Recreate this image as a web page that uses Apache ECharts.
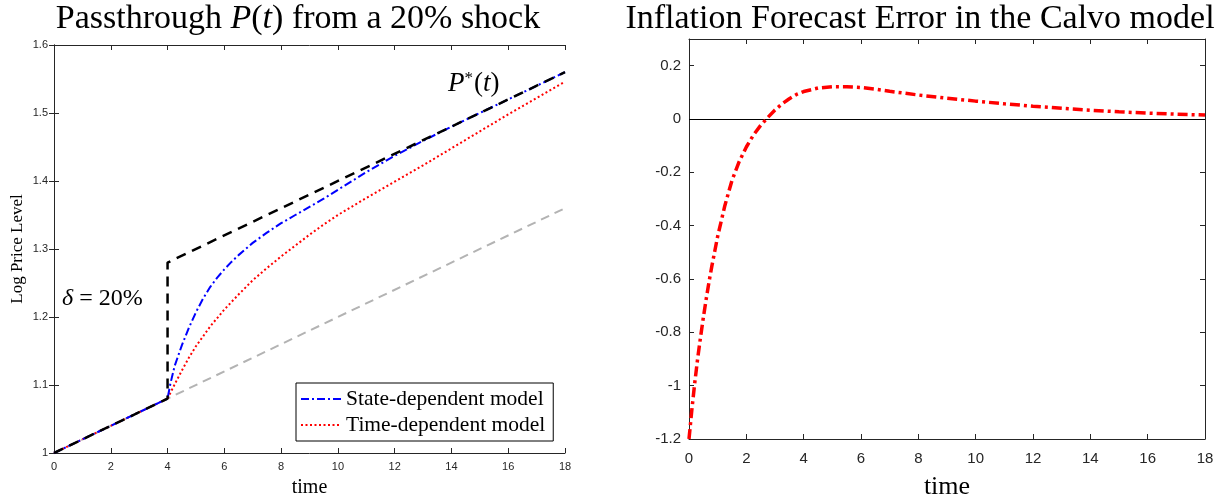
<!DOCTYPE html>
<html>
<head>
<meta charset="utf-8">
<script src="https://cdn.jsdelivr.net/npm/echarts@6/dist/echarts.min.js"></script>
<style>html,body{margin:0;padding:0;background:#fff;}#c{width:1228px;height:500px;}</style>
</head>
<body>
<div id="c"></div>
<script>
// ---- data ----
const pStarT   = [0, 4, 4, 18];
const pStarV   = [1.00, 1.08, 1.28, 1.56];
const trendT   = [0, 4, 18];
const trendV   = [1.00, 1.08, 1.36];
const stateT   = [0, 4, 4.1, 4.25, 4.5, 4.75, 5, 5.25, 5.5, 5.75, 6, 6.25, 6.5, 7, 7.5, 8, 8.5, 9, 9.5, 10, 10.5, 11, 11.5, 12, 12.5, 13, 14, 15, 16, 17, 18];
const stateV   = [1.00, 1.08, 1.102, 1.128, 1.158, 1.184, 1.207, 1.227, 1.244, 1.258, 1.270, 1.281, 1.291, 1.309, 1.324, 1.338, 1.350, 1.362, 1.374, 1.387, 1.400, 1.413, 1.425, 1.437, 1.448, 1.459, 1.480, 1.500, 1.520, 1.540, 1.560];
const timeT    = [0, 4, 4.25, 4.5, 4.75, 5, 5.5, 6, 6.5, 7, 7.5, 8, 8.5, 9, 9.5, 10, 11, 12, 13, 14, 15, 16, 17, 18];
const timeV    = [1.00, 1.08, 1.101, 1.121, 1.140, 1.157, 1.186, 1.211, 1.233, 1.254, 1.272, 1.289, 1.305, 1.321, 1.336, 1.350, 1.375, 1.399, 1.423, 1.448, 1.473, 1.498, 1.522, 1.546];
const errT     = [0, 0.1, 0.2, 0.3, 0.4, 0.5, 0.6, 0.7, 0.8, 0.9, 1.0, 1.25, 1.5, 1.75, 2, 2.25, 2.5, 2.75, 3, 3.25, 3.5, 3.75, 4, 4.5, 5, 5.5, 6, 6.5, 7, 8, 9, 10, 11, 12, 13, 14, 15, 16, 17, 18];
const errV     = [-1.2, -1.09, -0.99, -0.90, -0.82, -0.745, -0.675, -0.61, -0.55, -0.495, -0.44, -0.325, -0.23, -0.16, -0.105, -0.060, -0.024, 0.006, 0.034, 0.057, 0.076, 0.092, 0.103, 0.116, 0.121, 0.121, 0.118, 0.112, 0.104, 0.090, 0.078, 0.067, 0.057, 0.048, 0.040, 0.033, 0.027, 0.022, 0.018, 0.015];

const zip = (a, b) => a.map((v, i) => [v, b[i]]);
const SERIF = '"Liberation Serif","DejaVu Serif",serif';
const SANS = '"Liberation Sans",Arial,sans-serif';
const AX = '#262626';

function xAxisPair(gi, fs, margin, nameSize, nameGap) {
  return [
    { type: 'value', gridIndex: gi, min: 0, max: 18, interval: 2, position: 'bottom',
      name: 'time', nameLocation: 'middle', nameGap: nameGap,
      nameTextStyle: { fontFamily: SERIF, fontSize: nameSize, color: '#000' },
      axisLine: { onZero: false, lineStyle: { color: AX, width: 1 } },
      axisTick: { inside: true, length: 5, lineStyle: { color: AX } },
      axisLabel: { fontFamily: SANS, fontSize: fs, color: AX, margin: margin },
      splitLine: { show: false } },
    { type: 'value', gridIndex: gi, min: 0, max: 18, interval: 2, position: 'top',
      axisLine: { onZero: false, lineStyle: { color: AX, width: 1 } },
      axisTick: { inside: true, length: 5, lineStyle: { color: AX } },
      axisLabel: { show: false }, splitLine: { show: false } }
  ];
}

const chart = echarts.init(document.getElementById('c'));
chart.setOption({
  animation: false,
  backgroundColor: '#fff',
  grid: [
    { left: 54, right: 663, top: 45, bottom: 47, outerBoundsMode: 'none', containLabel: false },
    { left: 689, right: 23, top: 39, bottom: 61, outerBoundsMode: 'none', containLabel: false }
  ],
  xAxis: [...xAxisPair(0, 11, 8, 20, 25), ...xAxisPair(1, 15, 12, 26, 35)],
  yAxis: [
    { type: 'value', gridIndex: 0, min: 1, max: 1.6, interval: 0.1, position: 'left',
      name: 'Log Price Level', nameLocation: 'middle', nameGap: 28, nameRotate: 90,
      nameTextStyle: { fontFamily: SERIF, fontSize: 17, color: '#000' },
      axisLine: { lineStyle: { color: AX } },
      axisTick: { inside: true, length: 5, lineStyle: { color: AX } },
      axisLabel: { fontFamily: SANS, fontSize: 11, color: AX, margin: 6 },
      splitLine: { show: false } },
    { type: 'value', gridIndex: 0, min: 1, max: 1.6, interval: 0.1, position: 'right',
      axisLine: { lineStyle: { color: AX } },
      axisTick: { inside: true, length: 5, lineStyle: { color: AX } },
      axisLabel: { show: false }, splitLine: { show: false } },
    { type: 'value', gridIndex: 1, min: -1.2, max: 0.3, interval: 0.2, position: 'left',
      axisLine: { onZero: false, lineStyle: { color: AX } },
      axisTick: { inside: true, length: 5, lineStyle: { color: AX } },
      axisLabel: { fontFamily: SANS, fontSize: 15, color: AX, margin: 8, showMaxLabel: false },
      splitLine: { show: false } },
    { type: 'value', gridIndex: 1, min: -1.2, max: 0.3, interval: 0.2, position: 'right',
      axisLine: { onZero: false, lineStyle: { color: AX } },
      axisTick: { inside: true, length: 5, lineStyle: { color: AX } },
      axisLabel: { show: false }, splitLine: { show: false } }
  ],
  legend: {
    data: ['State-dependent model', 'Time-dependent model'],
    orient: 'vertical', left: 296, top: 383,
    backgroundColor: '#fff', borderColor: '#000', borderWidth: 1,
    padding: [5, 8, 5, 4], itemGap: 4, itemWidth: 40, itemHeight: 22,
    itemStyle: { opacity: 0 },
    textStyle: { fontFamily: SERIF, fontSize: 21.5, color: '#000' }
  },
  series: [
    { name: 'trend', type: 'line', xAxisIndex: 0, yAxisIndex: 0, data: zip(trendT, trendV),
      symbol: 'none', lineStyle: { color: '#b3b3b3', width: 2, type: [9, 6] }, z: 2 },
    { name: 'Time-dependent model', type: 'line', xAxisIndex: 0, yAxisIndex: 0, data: zip(timeT, timeV),
      symbol: 'none', color: '#ff0000',
      lineStyle: { color: '#ff0000', width: 2, type: [2, 2.5] }, z: 3 },
    { name: 'State-dependent model', type: 'line', xAxisIndex: 0, yAxisIndex: 0, data: zip(stateT, stateV),
      symbol: 'none', color: '#0000ff',
      lineStyle: { color: '#0000ff', width: 2, type: [8, 3, 2, 3] }, z: 4 },
    { name: 'P*', type: 'line', xAxisIndex: 0, yAxisIndex: 0, data: zip(pStarT, pStarV),
      symbol: 'none', lineStyle: { color: '#000', width: 2.5, type: [10, 7] }, z: 5 },
    { name: 'Forecast error', type: 'line', xAxisIndex: 2, yAxisIndex: 2, data: zip(errT, errV),
      symbol: 'none',
      lineStyle: { color: '#ff0000', width: 3.5, type: [10, 4, 3, 4] }, z: 5,
      markLine: { silent: true, symbol: 'none', label: { show: false },
        lineStyle: { color: '#000', width: 1, type: 'solid' }, data: [{ yAxis: 0 }] } }
  ],
  graphic: [
    { type: 'text', x: 298, y: 2, style: {
        text: '{r|Passthrough }{i|P}{r|(}{i|t}{r|) from a 20% shock}',
        align: 'center', textAlign: 'center', rich: {
          r: { fontFamily: SERIF, fontSize: 34, fill: '#000' },
          i: { fontFamily: SERIF, fontSize: 34, fontStyle: 'italic', fill: '#000' } } } },
    { type: 'text', x: 920, y: 2, style: {
        text: 'Inflation Forecast Error in the Calvo model',
        align: 'center', textAlign: 'center', font: '34px ' + SERIF, fill: '#000' } },
    { type: 'text', x: 62, y: 287, style: {
        text: '{i|δ}{e|=}{r|20%}',
        rich: {
          r: { fontFamily: SERIF, fontSize: 24, fill: '#000' },
          e: { fontFamily: SERIF, fontSize: 24, fill: '#000', padding: [0, 6, 0, 6] },
          i: { fontFamily: SERIF, fontSize: 24, fontStyle: 'italic', fill: '#000' } } } },
    { type: 'text', x: 448, y: 70, style: {
        text: '{i|P}{s|*}{r|(}{i|t}{r|)}',
        rich: {
          r: { fontFamily: SERIF, fontSize: 27, fill: '#000' },
          s: { fontFamily: SERIF, fontSize: 17, fill: '#000', verticalAlign: 'top', padding: [0, 1, 10, 0] },
          i: { fontFamily: SERIF, fontSize: 27, fontStyle: 'italic', fill: '#000' } } } }
  ]
});
</script>
</body>
</html>
